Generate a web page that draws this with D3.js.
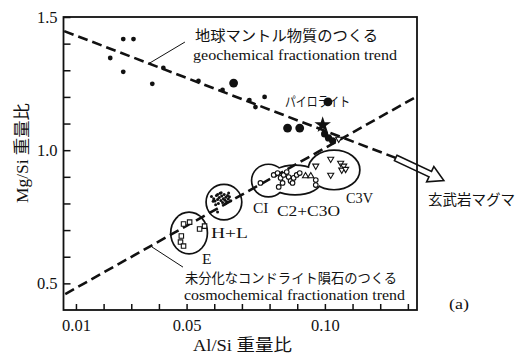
<!DOCTYPE html>
<html>
<head>
<meta charset="utf-8">
<script src="https://d3js.org/d3.v7.min.js"></script>
<style>
  body { margin: 0; background: #fff; }
  text { font-family: "Liberation Serif", "Noto Sans CJK JP", serif; fill: #111; }
  .trend { fill: none; stroke: #111; stroke-width: 2.6px; stroke-dasharray: 10,5; }
  .frame { fill: none; stroke: #111; stroke-width: 1.8px; }
</style>
</head>
<body>
<script>
// 軸の目盛り
var xTicks = [0.01, 0.02, 0.03, 0.04, 0.05, 0.06, 0.07, 0.08, 0.09, 0.10, 0.11, 0.12, 0.13];
var xLabeled = [0.01, 0.05, 0.10];
var yTicks = [0.5, 0.6, 0.7, 0.8, 0.9, 1.0, 1.1, 1.2, 1.3, 1.4, 1.5];
var yLabeled = [0.5, 1.0, 1.5];

// 地球マントル物質 (Al/Si, Mg/Si)
var mantleSmall = [[0.0224,1.346],[0.0271,1.417],[0.0308,1.417],[0.0271,1.294],[0.0376,1.249],
  [0.0416,1.309],[0.0543,1.260],[0.0630,1.226],[0.0727,1.188],[0.0749,1.162],[0.0782,1.200]];
var mantleLarge = [[0.0670,1.252],[0.0865,1.083],[0.0909,1.083],[0.1011,1.181]];
var mantleBlob = [[0.0999,1.061],[0.1013,1.046],[0.1028,1.035]];
var pyrolite = [[0.0992,1.095]];

// コンドライト
var eChondrite = [[0.0489,0.723],[0.0511,0.730],[0.0547,0.704],[0.0565,0.715],[0.0481,0.678],[0.0478,0.655],[0.0489,0.640]];
var hlChondrite = [[0.0590,0.826],[0.0598,0.818],[0.0603,0.809],[0.0608,0.830],[0.0612,0.815],[0.0615,0.800],
  [0.0618,0.822],[0.0621,0.838],[0.0624,0.811],[0.0627,0.828],[0.0630,0.804],[0.0633,0.818],[0.0636,0.834],
  [0.0639,0.812],[0.0642,0.823],[0.0645,0.806],[0.0648,0.830],[0.0651,0.817],[0.0655,0.825],[0.0660,0.810],
  [0.0605,0.795],[0.0625,0.840],[0.0612,0.834],[0.0640,0.799],[0.0596,0.808],[0.0612,0.768],[0.0652,0.839]];
var carbCircles = [[0.0767,0.877],[0.0815,0.907],[0.0829,0.914],[0.0840,0.896],[0.0847,0.877],[0.0833,0.862],
  [0.0851,0.907],[0.0869,0.899],[0.0876,0.884],[0.0887,0.896],[0.0883,0.877],[0.0898,0.907],[0.0909,0.914],
  [0.0862,0.918],[0.0967,0.888],[0.0967,0.869]];
var carbUpTri = [[0.0930,0.903],[0.0949,0.903]];
var c3vTri = [[0.0967,0.941],[0.1021,0.967],[0.1057,0.952],[0.1068,0.941],[0.1061,0.926],[0.1075,0.929],[0.1021,0.907],[0.1050,1.042]];

// グループの囲み (中心と半径, データ単位)
var groups = [
  {name: "E",      cx: 0.0509, cy: 0.689, rx: 0.00633, ry: 0.0751},
  {name: "H+L",    cx: 0.0635, cy: 0.805, rx: 0.00615, ry: 0.0638},
  {name: "CI",     cx: 0.0796, cy: 0.886, rx: 0.00580, ry: 0.0580},
  {name: "C2+C3O", cx: 0.0892, cy: 0.888, rx: 0.0094,  ry: 0.0526},
  {name: "C3V",    cx: 0.1033, cy: 0.926, rx: 0.00904, ry: 0.0713}
];

// トレンド線
var geoTrend = [[0.00576,1.447],[0.1256,0.971]];
var geoArrow = [[0.1256,0.971],[0.1430,0.886]];
var cosmoTrend = [[0.00613,0.460],[0.1329,1.200]];
var leaders = [[[0.0494,1.406],[0.0360,1.323]], [[0.0375,0.6365],[0.0487,0.561]]];

var W = 516, H = 356;
var x = d3.scaleLinear().domain([0.0055, 0.1333]).range([63.5, 417]);
var y = d3.scaleLinear().domain([0.4, 1.5]).range([310, 17]);

var svg = d3.select("body").append("svg").attr("width", W).attr("height", H);

// 囲み: 輪郭を先に描き、白で塗りつぶして結合した輪郭にする
var gEll = svg.append("g");
gEll.selectAll("ellipse.o").data(groups).enter().append("ellipse")
  .attr("cx", d => x(d.cx)).attr("cy", d => y(d.cy))
  .attr("rx", d => x(d.cx + d.rx) - x(d.cx)).attr("ry", d => y(d.cy - d.ry) - y(d.cy))
  .attr("fill", "none").attr("stroke", "#111").attr("stroke-width", 3.4);
gEll.selectAll("ellipse.f").data(groups).enter().append("ellipse")
  .attr("cx", d => x(d.cx)).attr("cy", d => y(d.cy))
  .attr("rx", d => x(d.cx + d.rx) - x(d.cx)).attr("ry", d => y(d.cy - d.ry) - y(d.cy))
  .attr("fill", "#fff");

var line = d3.line().x(d => x(d[0])).y(d => y(d[1]));
svg.append("path").datum(geoTrend).attr("class", "trend").attr("d", line);
svg.append("path").datum(cosmoTrend).attr("class", "trend").attr("d", line);
svg.selectAll("path.leader").data(leaders).enter().append("path")
  .attr("d", line).attr("stroke", "#111").attr("stroke-width", 1).attr("fill", "none");

// 白抜き矢印
var ax0 = x(geoArrow[0][0]), ay0 = y(geoArrow[0][1]);
var ax1 = x(geoArrow[1][0]), ay1 = y(geoArrow[1][1]);
var L = Math.hypot(ax1 - ax0, ay1 - ay0), ang = Math.atan2(ay1 - ay0, ax1 - ax0) * 180 / Math.PI;
svg.append("path")
  .attr("d", "M0,-3L" + (L-15) + ",-3L" + (L-15) + ",-8.5L" + L + ",0L" + (L-15) + ",8.5L" + (L-15) + ",3L0,3Z")
  .attr("transform", "translate(" + ax0 + "," + ay0 + ") rotate(" + ang + ")")
  .attr("fill", "#fff").attr("stroke", "#111").attr("stroke-width", 1.6);

// 枠と軸
svg.append("rect").attr("class", "frame").attr("x", 63.5).attr("y", 17).attr("width", 417 - 63.5).attr("height", 310 - 17);
var fmt = d3.format(".2f");
var xAxis = svg.append("g").attr("transform", "translate(0,310)")
  .call(d3.axisBottom(x).tickValues(xTicks).tickSizeInner(-6).tickSizeOuter(0).tickPadding(9)
    .tickFormat(d => xLabeled.some(v => Math.abs(v - d) < 1e-9) ? fmt(d) : ""));
var yAxis = svg.append("g").attr("transform", "translate(63.5,0)")
  .call(d3.axisLeft(y).tickValues(yTicks).tickSizeInner(-7).tickSizeOuter(0).tickPadding(6)
    .tickFormat(d => yLabeled.some(v => Math.abs(v - d) < 1e-9) ? d3.format(".1f")(d) : ""));
[xAxis, yAxis].forEach(function(a) {
  a.select(".domain").remove();
  a.selectAll("line").attr("stroke", "#111").attr("stroke-width", 1.5);
  a.selectAll("text").attr("font-family", "Liberation Serif").attr("font-size", 16.5).attr("fill", "#111");
});

// 点
function dots(data, r) {
  svg.append("g").selectAll("circle").data(data).enter().append("circle")
    .attr("cx", d => x(d[0])).attr("cy", d => y(d[1])).attr("r", r).attr("fill", "#111");
}
dots(mantleSmall, 2.4);
dots(mantleLarge, 4.4);
dots(mantleBlob, 3.6);
dots(hlChondrite, 1.5);

function symbols(data, type, size, rot, sw) {
  svg.append("g").selectAll("path").data(data).enter().append("path")
    .attr("d", d3.symbol().type(type).size(size))
    .attr("transform", d => "translate(" + x(d[0]) + "," + y(d[1]) + ") rotate(" + rot + ")")
    .attr("fill", "#fff").attr("stroke", "#111").attr("stroke-width", sw);
}
symbols(eChondrite, d3.symbolSquare, 20, 0, 1.1);
symbols(carbCircles, d3.symbolCircle, 17, 0, 1.1);
symbols(carbUpTri, d3.symbolTriangle, 16, 0, 1.1);
symbols(c3vTri, d3.symbolTriangle, 16, 180, 1.1);

svg.append("g").selectAll("path").data(pyrolite).enter().append("path")
  .attr("d", d3.symbol().type(d3.symbolStar).size(85))
  .attr("transform", d => "translate(" + x(d[0]) + "," + y(d[1]) + ")")
  .attr("fill", "#111");

// 文字
var labels = [
  {t: "地球マントル物質のつくる", x: 195, y: 41, s: 15, w: 183},
  {t: "geochemical fractionation trend", x: 193, y: 60, s: 14.5, w: 204},
  {t: "パイロライト", x: 285, y: 106, s: 13, w: 65},
  {t: "玄武岩マグマ", x: 428, y: 205, s: 14.5, w: 87},
  {t: "未分化なコンドライト隕石のつくる", x: 185, y: 283, s: 13.5, w: 212},
  {t: "cosmochemical fractionation trend", x: 184, y: 300, s: 14.5, w: 221},
  {t: "H+L", x: 211, y: 238, s: 15.5, w: 37},
  {t: "E", x: 202, y: 264, s: 15.5},
  {t: "CI", x: 253, y: 213, s: 15.5},
  {t: "C2+C3O", x: 277, y: 216, s: 15.5, w: 63},
  {t: "C3V", x: 346, y: 203, s: 15.5, w: 27},
  {t: "(a)", x: 449, y: 309, s: 15.5, w: 20},
  {t: "Al/Si 重量比", x: 193, y: 351, s: 16.5, w: 99}
];
labels.forEach(function(l) {
  var t = svg.append("text").attr("x", l.x).attr("y", l.y).attr("font-size", l.s).text(l.t);
  if (l.w) t.attr("textLength", l.w).attr("lengthAdjust", "spacingAndGlyphs");
});
svg.append("text").attr("transform", "translate(28,153) rotate(-90)")
  .attr("text-anchor", "middle").attr("font-size", 16.5)
  .attr("textLength", 100).attr("lengthAdjust", "spacingAndGlyphs")
  .text("Mg/Si 重量比");
</script>
</body>
</html>
